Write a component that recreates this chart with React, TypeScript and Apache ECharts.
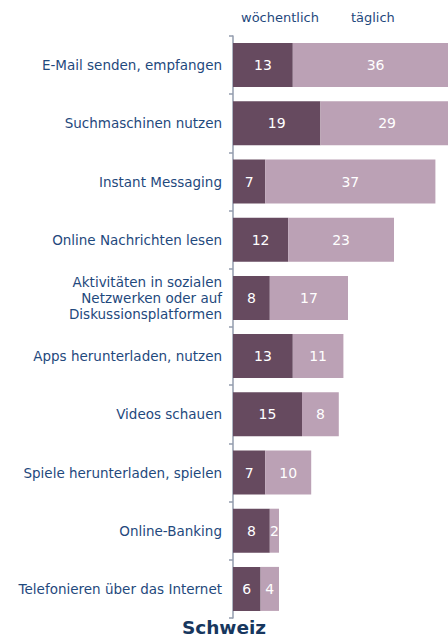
import React, { useEffect, useRef } from "react";
import * as echarts from "echarts";

const categories = [
  "E-Mail senden, empfangen",
  "Suchmaschinen nutzen",
  "Instant Messaging",
  "Online Nachrichten lesen",
  "Aktivitäten in sozialen\nNetzwerken oder auf\nDiskussionsplatformen",
  "Apps herunterladen, nutzen",
  "Videos schauen",
  "Spiele herunterladen, spielen",
  "Online-Banking",
  "Telefonieren über das Internet",
];
const weekly = [13, 19, 7, 12, 8, 13, 15, 7, 8, 6];
const daily = [36, 29, 37, 23, 17, 11, 8, 10, 2, 4];
const seriesNames = ["wöchentlich", "täglich"];

export default function App() {
  const ref = useRef<HTMLDivElement>(null);
  useEffect(() => {
    if (!ref.current) return;
    const chart = echarts.init(ref.current, undefined, { renderer: "svg" });
    const font = "DejaVu Sans, Verdana, sans-serif";
    chart.setOption({
      animation: false,
      textStyle: { fontFamily: font },
      title: {
        text: "Schweiz",
        left: "center",
        top: 618,
        padding: 0,
        textStyle: {
          fontSize: 18.5,
          lineHeight: 18,
          fontWeight: "bold",
          color: "#17375E",
          fontFamily: font,
        },
      },
      legend: {
        data: seriesNames,
        left: 231,
        top: 6,
        icon: "none",
        itemWidth: 0,
        itemHeight: 0,
        itemGap: 27,
        selectedMode: false,
        textStyle: { fontSize: 13, color: "#1F497D", fontFamily: font },
      },
      grid: {
        left: 233,
        top: 36,
        width: 276,
        height: 582,
        containLabel: false,
        outerBoundsMode: "none",
      },
      xAxis: {
        type: "value",
        min: 0,
        max: 60,
        show: false,
      },
      yAxis: {
        type: "category",
        data: categories,
        inverse: true,
        axisLine: { show: true, lineStyle: { color: "#939CAE", width: 1.5 } },
        axisTick: { show: true, length: 4, lineStyle: { color: "#939CAE", width: 1.5 } },
        axisLabel: {
          fontSize: 13.5,
          color: "#1F497D",
          margin: 11,
          lineHeight: 16,
          fontFamily: font,
          align: "right",
        },
      },
      series: [
        {
          name: seriesNames[0],
          type: "bar",
          stack: "s",
          data: weekly,
          barWidth: 44,
          itemStyle: { color: "#664A5F" },
          label: { show: true, position: "inside", color: "#fff", fontSize: 14, fontFamily: font },
        },
        {
          name: seriesNames[1],
          type: "bar",
          stack: "s",
          data: daily,
          barWidth: 44,
          itemStyle: { color: "#BBA1B5" },
          label: { show: true, position: "inside", color: "#fff", fontSize: 14, fontFamily: font },
        },
      ],
    });
    return () => chart.dispose();
  }, []);
  return <div ref={ref} style={{ width: 448, height: 637, position: "absolute", left: 0, top: 0 }} />;
}
